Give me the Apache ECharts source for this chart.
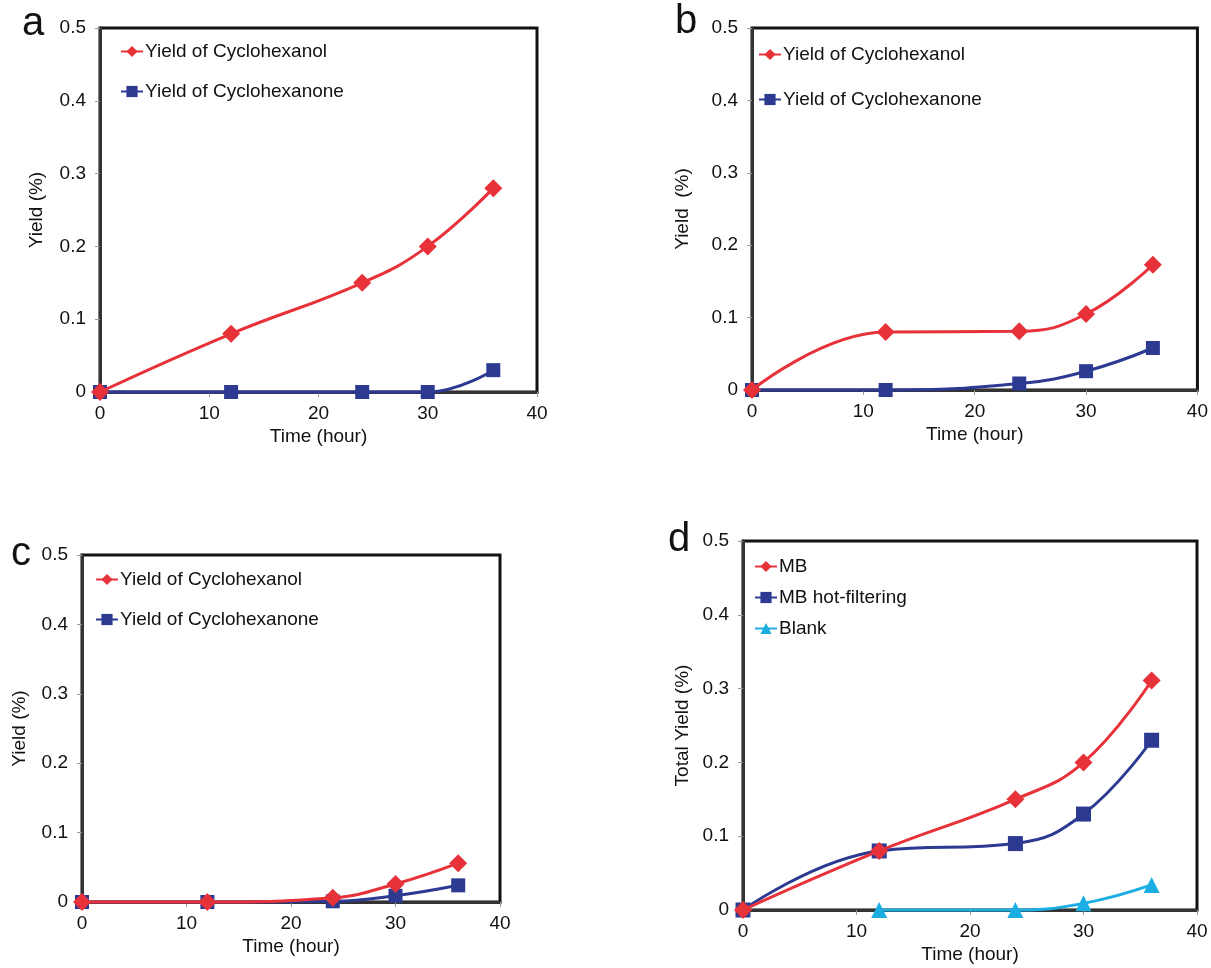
<!DOCTYPE html>
<html>
<head>
<meta charset="utf-8">
<script src="https://cdn.jsdelivr.net/npm/echarts@6/dist/echarts.min.js"></script>
<style>
  html, body { margin: 0; padding: 0; background: #fff; }
  #main { width: 1211px; height: 968px; }
</style>
</head>
<body>
<div id="main"></div>
<script>
// sampling times (hour)
var hours = [0, 12, 24, 30, 36];
var blankHours = [12, 24, 30, 36];
var xTicks = [0, 10, 20, 30, 40];
var yTicks = [0, 0.1, 0.2, 0.3, 0.4, 0.5];

// panel a
var aOl = [0, 0.08, 0.15, 0.2, 0.28];
var aOne = [0, 0, 0, 0, 0.03];
// panel b
var bOl = [0, 0.08, 0.081, 0.105, 0.173];
var bOne = [0, 0, 0.009, 0.026, 0.058];
// panel c
var cOl = [0, 0, 0.006, 0.026, 0.056];
var cOne = [0, 0, 0.001, 0.009, 0.024];
// panel d
var dMB = [0, 0.08, 0.15, 0.2, 0.311];
var dHot = [0, 0.08, 0.09, 0.13, 0.23];
var dBlank = [0, 0, 0.009, 0.034];

var RED = '#e8323a', BLUE = '#2c3a92', CYAN = '#1aaee2';
var FONT = '"Liberation Sans", Arial, sans-serif';
var FS = 19;

var panels = [
	{ letter: 'a', lx: 33, ly: 24, grid: { left: 100, top: 28, width: 437, height: 364 }, yName: 'Yield (%)', yGap: 54,
	  legend: { left: 120, top: 42, itemGap: 21 } },
	{ letter: 'b', lx: 686, ly: 22, grid: { left: 752, top: 28, width: 449, height: 362 }, yName: 'Yield  (%)', yGap: 60,
	  legend: { left: 758, top: 45, itemGap: 26 } },
	{ letter: 'c', lx: 21, ly: 554, grid: { left: 82, top: 555, width: 418, height: 347 }, yName: 'Yield (%)', yGap: 53,
	  legend: { left: 95, top: 570, itemGap: 21 } },
	{ letter: 'd', lx: 679, ly: 540, grid: { left: 743, top: 541, width: 454, height: 369 }, yName: 'Total Yield (%)', yGap: 51,
	  legend: { left: 754, top: 557, itemGap: 12 } }
];

function pairs(xs, ys){
	var out = [];
	for (var i = 0; i < xs.length; i++) out.push([xs[i], ys[i]]);
	return out;
}

function line(name, idx, xs, ys, color, symbol, size){
	return {
		name: name,
		type: 'line',
		xAxisIndex: idx,
		yAxisIndex: idx,
		data: pairs(xs, ys),
		smooth: 0.45,
		symbol: symbol,
		symbolSize: size,
		color: color,
		lineStyle: { width: 3, color: color },
		itemStyle: { color: color },
		clip: false,
		z: symbol === 'rect' ? 3 : 4
	};
}

var OL = 'Yield of Cyclohexanol', ONE = 'Yield of Cyclohexanone';
var series = [
	line(OL, 0, hours, aOl, RED, 'diamond', 18),
	line(ONE, 0, hours, aOne, BLUE, 'rect', 14),
	line(OL, 1, hours, bOl, RED, 'diamond', 18),
	line(ONE, 1, hours, bOne, BLUE, 'rect', 14),
	line(OL, 2, hours, cOl, RED, 'diamond', 18),
	line(ONE, 2, hours, cOne, BLUE, 'rect', 14),
	line('MB', 3, hours, dMB, RED, 'diamond', 18),
	line('MB hot-filtering', 3, hours, dHot, BLUE, 'rect', 15),
	line('Blank', 3, blankHours, dBlank, CYAN, 'triangle', 16)
];

var legendData = [[OL, ONE], [OL, ONE], [OL, ONE], ['MB', 'MB hot-filtering', 'Blank']];

var option = {
	backgroundColor: '#fff',
	animation: false,
	textStyle: { fontFamily: FONT },
	grid: panels.map(function(p){
		return Object.assign({ show: true, borderColor: '#111', borderWidth: 3, backgroundColor: '#fff' }, p.grid);
	}),
	xAxis: panels.map(function(p, i){
		return {
			type: 'value', gridIndex: i, min: 0, max: 40, interval: 10,
			name: 'Time (hour)', nameLocation: 'middle', nameGap: 35,
			nameTextStyle: { fontSize: FS, color: '#111', fontFamily: FONT },
			axisLine: { show: true, onZero: false, lineStyle: { color: '#333', width: 3 } },
			axisTick: { show: true, length: 5, lineStyle: { color: '#999' } },
			axisLabel: { fontSize: FS, color: '#111', margin: 12, fontFamily: FONT },
			splitLine: { show: false }
		};
	}),
	yAxis: panels.map(function(p, i){
		return {
			type: 'value', gridIndex: i, min: 0, max: 0.5, interval: 0.1,
			name: p.yName, nameLocation: 'middle', nameGap: p.yGap,
			nameTextStyle: { fontSize: FS, color: '#111', fontFamily: FONT },
			axisLine: { show: true, lineStyle: { color: '#333', width: 3 } },
			axisTick: { show: true, length: 5, lineStyle: { color: '#999' } },
			axisLabel: { fontSize: FS, color: '#111', margin: 14, fontFamily: FONT },
			splitLine: { show: false }
		};
	}),
	legend: panels.map(function(p, i){
		return {
			left: p.legend.left, top: p.legend.top,
			orient: 'vertical', itemGap: p.legend.itemGap,
			itemWidth: 22, itemHeight: 14, padding: 0,
			selectedMode: false,
			data: legendData[i],
			textStyle: { fontSize: FS, color: '#111', fontFamily: FONT, padding: [0, 0, 0, -3] }
		};
	}),
	graphic: panels.map(function(p){
		return {
			type: 'text', x: p.lx, y: p.ly,
			style: { text: p.letter, fontSize: 40, fontFamily: FONT, fill: '#111', align: 'center', verticalAlign: 'middle' }
		};
	}),
	series: series
};

var chart = echarts.init(document.getElementById('main'));
chart.setOption(option);
window.addEventListener('resize', function(){ chart.resize(); });
</script>
</body>
</html>
